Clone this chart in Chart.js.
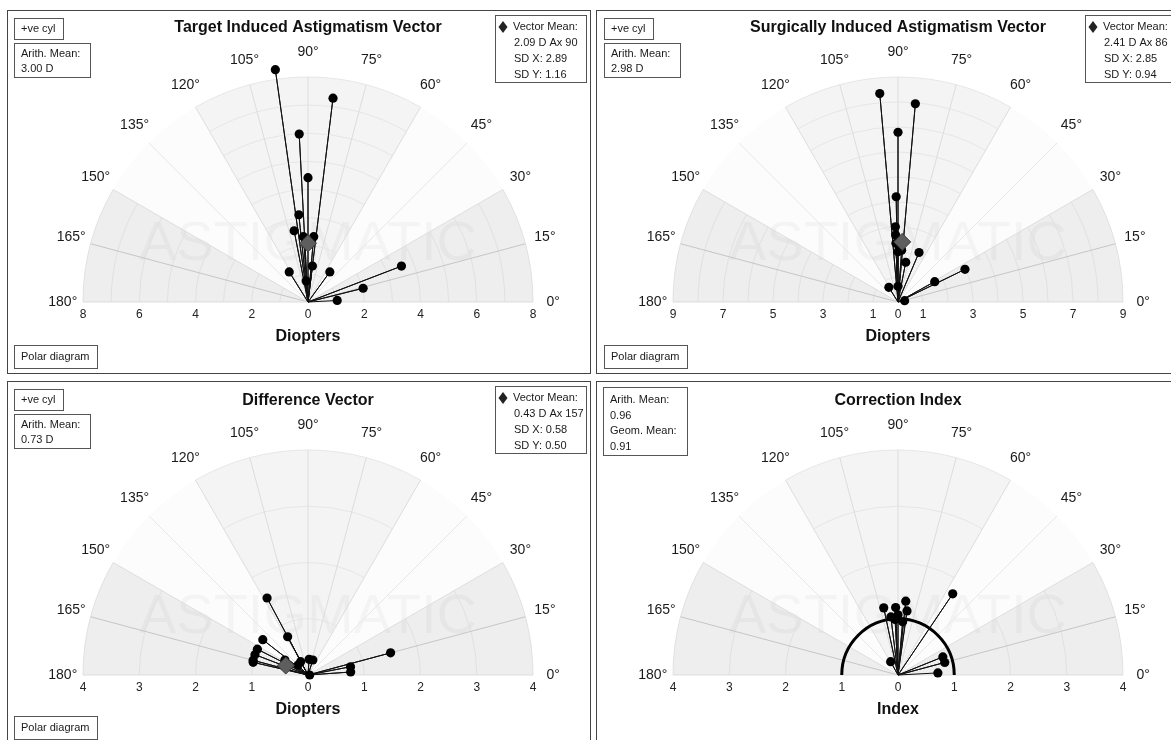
<!DOCTYPE html>
<html><head><meta charset="utf-8">
<script src="https://cdn.jsdelivr.net/npm/chart.js@4.4.0/dist/chart.umd.min.js"></script>
<style>
html,body{margin:0;padding:0;background:#fff;width:1171px;height:740px;overflow:hidden;position:relative;}
.frame{position:absolute;border:1px solid #444;box-sizing:border-box;}
canvas{position:absolute;}
</style></head><body>
<div class="frame" style="left:7px;top:10px;width:584px;height:364px"></div>
<div class="frame" style="left:596px;top:10px;width:600px;height:364px"></div>
<div class="frame" style="left:7px;top:381px;width:584px;height:400px"></div>
<div class="frame" style="left:596px;top:381px;width:600px;height:400px"></div>
<canvas id="c1" width="590" height="373" style="left:0;top:0"></canvas>
<canvas id="c2" width="590" height="373" style="left:590px;top:0"></canvas>
<canvas id="c3" width="590" height="373" style="left:0;top:373px"></canvas>
<canvas id="c4" width="590" height="373" style="left:590px;top:373px"></canvas>
<script>
// ---------- DATA ----------
const angleLabels = [0,15,30,45,60,75,90,105,120,135,150,165,180];

const tiaTitle = 'Target Induced Astigmatism Vector';
const tiaMag  = [8.34, 7.30, 5.98, 4.42, 3.12, 2.58, 2.33, 2.33, 1.29, 1.26, 1.32, 0.75, 3.56, 2.02, 1.04];
const tiaAxis = [98, 83, 93, 90, 96, 101, 85, 94, 83, 122, 54, 95, 21, 14, 3];
const tiaMean = [2.09, 90];
const tiaTicks = [-8,-6,-4,-2,0,2,4,6,8];
const tiaRange = 8;
const tiaArith = ['Arith. Mean:', '3.00 D'];
const tiaStats = ['Vector Mean:', '2.09 D Ax 90', 'SD X: 2.89', 'SD Y: 1.16'];

const siaTitle = 'Surgically Induced Astigmatism Vector';
const siaMag  = [8.37, 7.96, 6.79, 4.21, 3.01, 2.68, 2.35, 2.01, 2.08, 2.15, 1.62, 2.98, 1.68, 0.69, 0.63, 0.27];
const siaAxis = [95, 85, 90, 91, 92, 92, 92, 90, 86, 67, 79, 26, 29, 122, 90, 11];
const siaMean = [2.41, 86];
const siaTicks = [-9,-7,-5,-3,-1,0,1,3,5,7,9];
const siaRange = 9;
const siaArith = ['Arith. Mean:', '2.98 D'];
const siaStats = ['Vector Mean:', '2.41 D Ax 86', 'SD X: 2.85', 'SD Y: 0.94'];

const dvTitle = 'Difference Vector';
const dvMag  = [1.55, 0.77, 1.02, 1.01, 1.01, 1.01, 1.00, 0.49, 0.27, 0.28, 0.28, 0.03, 0.77, 0.76, 1.52, 0.25];
const dvAxis = [118, 118, 142, 153, 159, 165, 167, 147, 119, 86, 72, 0, 11, 4, 15, 135];
const dvMean = [0.43, 157];
const dvTicks = [-4,-3,-2,-1,0,1,2,3,4];
const dvRange = 4;
const dvArith = ['Arith. Mean:', '0.73 D'];
const dvStats = ['Vector Mean:', '0.43 D Ax 157', 'SD X: 0.58', 'SD Y: 0.50'];

const ciTitle = 'Correction Index';
const ciMag  = [1.74, 1.22, 1.20, 1.32, 1.15, 1.04, 0.99, 0.95, 1.07, 0.27, 0.86, 0.86, 0.71];
const ciAxis = [56, 102, 92, 84, 82, 97, 93, 85, 90, 119, 22, 15, 3];
const ciTicks = [-4,-3,-2,-1,0,1,2,3,4];
const ciRange = 4;
const ciStats = ['Arith. Mean:', '0.96', 'Geom. Mean:', '0.91'];

const watermark = 'ASTIGMATIC';
// ---------- END DATA ----------

const FONT = '"Liberation Sans", Arial, Helvetica, sans-serif';
Chart.defaults.font.family = FONT;
const HEADROOM = 1.1; // y axis extends 10% above the polar radius so outer points stay visible

function toXY(m, a){ const r = a*Math.PI/180; return {x: m*Math.cos(r), y: m*Math.sin(r)}; }

const polarPlugin = {
  id: 'polarGrid',
  beforeDatasetsDraw(chart, args, o) {
    const ctx = chart.ctx, xs = chart.scales.x, ys = chart.scales.y;
    const R = o.R;
    const cx = xs.getPixelForValue(0), cy = ys.getPixelForValue(0);
    const rp = xs.getPixelForValue(R) - cx;
    const unit = xs.getPixelForValue(1) - cx;
    const d2r = Math.PI/180;
    ctx.save();
    const sectors = [[0,30,'#eeeeee'],[30,60,'#fcfcfc'],[60,120,'#f4f4f4'],[120,150,'#fcfcfc'],[150,180,'#eeeeee']];
    for (const [a0,a1,c] of sectors) {
      ctx.beginPath(); ctx.moveTo(cx,cy);
      ctx.arc(cx,cy,rp,-a0*d2r,-a1*d2r,true);
      ctx.closePath(); ctx.fillStyle=c; ctx.fill();
    }
    // watermark
    ctx.font = '56px ' + FONT;
    ctx.fillStyle = 'rgba(0,0,0,0.03)';
    ctx.textAlign = 'center'; ctx.textBaseline = 'alphabetic';
    ctx.fillText(watermark, cx, cy - 42);
    // arcs in shaded sectors
    ctx.lineWidth = 1;
    for (let k = 1; k < R + 0.001; k++) {
      for (const [a0,a1,col] of [[0,30,'#e1e1e1'],[60,120,'#e6e6e6'],[150,180,'#e1e1e1']]) {
        ctx.strokeStyle = col;
        ctx.beginPath(); ctx.arc(cx,cy,k*unit,-a0*d2r,-a1*d2r,true); ctx.stroke();
      }
    }
    // radial lines
    for (const a of angleLabels) {
      let col = '#dddddd';
      if (a === 15 || a === 165) col = '#c6c6c6';
      if (a === 45 || a === 135) col = '#e8e8e8';
      ctx.strokeStyle = col;
      ctx.beginPath(); ctx.moveTo(cx,cy);
      ctx.lineTo(cx + rp*Math.cos(a*d2r), cy - rp*Math.sin(a*d2r)); ctx.stroke();
    }
    // angle labels
    ctx.font = '14px ' + FONT;
    ctx.fillStyle = '#1a1a1a';
    ctx.textAlign = 'center'; ctx.textBaseline = 'middle';
    for (const a of angleLabels) {
      const rr = rp*1.09;
      ctx.fillText(a + '\u00B0', cx + rr*Math.cos(a*d2r), cy - rr*Math.sin(a*d2r) - 5*Math.sin(a*d2r));
    }
    if (o.unitCircle) {
      ctx.strokeStyle = '#000'; ctx.lineWidth = 3;
      ctx.beginPath(); ctx.arc(cx,cy,unit,0,-Math.PI,true); ctx.stroke();
    }
    ctx.restore();
  },
  afterDraw(chart, args, o) {
    const ctx = chart.ctx;
    ctx.save();
    for (const b of o.boxes) {
      ctx.fillStyle = '#fff'; ctx.fillRect(b.x, b.y, b.w, b.h);
      ctx.strokeStyle = '#555'; ctx.lineWidth = 1;
      ctx.strokeRect(b.x + 0.5, b.y + 0.5, b.w, b.h);
      ctx.font = '11px ' + FONT; ctx.fillStyle = '#1a1a1a';
      ctx.textAlign = 'left'; ctx.textBaseline = 'middle';
      const ls = b.ls || 15.5, t0 = b.t0 || 10.5;
      if (b.diamond) {
        const dx = b.x + 8, dy = b.y + t0;
        ctx.beginPath(); ctx.moveTo(dx, dy - 6); ctx.lineTo(dx + 4.5, dy); ctx.lineTo(dx, dy + 6); ctx.lineTo(dx - 4.5, dy); ctx.closePath();
        ctx.fillStyle = '#222'; ctx.fill(); ctx.fillStyle = '#1a1a1a';
      }
      b.lines.forEach((ln, i) => {
        const x = b.diamond ? (i === 0 ? b.x + 18 : b.x + 19) : b.x + 7;
        ctx.fillText(ln, x, b.y + t0 + i*ls);
      });
    }
    ctx.restore();
  }
};

function makeChart(id, c) {
  const pts = c.mag.map((m,i) => toXY(m, c.axis[i]));
  const spokes = [];
  pts.forEach(p => { spokes.push({x:0, y:0}); spokes.push(p); });
  const datasets = [
    {data: spokes, showLine: true, borderColor: '#111', borderWidth: 1, pointRadius: 0, clip: false, order: 3},
    {data: pts, showLine: false, pointRadius: 4.6, pointHoverRadius: 4.6, pointBackgroundColor: '#000', pointBorderColor: '#000', pointBorderWidth: 0, clip: false, order: 2}
  ];
  if (c.mean) {
    datasets.push({data: [toXY(c.mean[0], c.mean[1])], showLine: false, pointStyle: 'rectRot', pointRadius: 8.5, pointBackgroundColor: '#5e5e5e', pointBorderColor: '#3a3a3a', pointBorderWidth: 1, clip: false, order: 1});
  }
  const dy = c.dyTop || 0;
  return new Chart(document.getElementById(id), {
    type: 'scatter',
    data: {datasets},
    plugins: [polarPlugin],
    options: {
      responsive: false, animation: false, devicePixelRatio: 1,
      layout: {padding: {left: 83, right: 57, top: 5 + dy, bottom: 21}},
      scales: {
        x: {
          type: 'linear', min: -c.R, max: c.R,
          afterBuildTicks: s => { s.ticks = c.ticks.map(v => ({value: v})); },
          afterFit: s => { s.height = 50; },
          ticks: {autoSkip: false, maxRotation: 0, padding: 5, font: {size: 12}, color: '#222', callback: v => Math.abs(v)},
          grid: {display: false, drawTicks: false},
          border: {display: false},
          title: {display: true, text: c.xTitle, font: {size: 16, weight: 'bold'}, color: '#111', padding: {top: 0, bottom: 6}}
        },
        y: {type: 'linear', display: false, min: 0, max: c.R * HEADROOM}
      },
      plugins: {
        legend: {display: false},
        tooltip: {enabled: false},
        title: {display: true, text: c.title, fullSize: false, font: {size: 16, weight: 'bold'}, color: '#111', padding: {top: 13.4 - dy, bottom: 16.9}},
        polarGrid: {R: c.R, unitCircle: !!c.unitCircle, boxes: c.boxes}
      }
    }
  });
}

function stdBoxes(arith, stats, dy) {
  return [
    {x: 14, y: 18 + dy, w: 49, h: 21, lines: ['+ve cyl']},
    {x: 14, y: 43 + dy, w: 76, h: 34, lines: arith, t0: 10.5, ls: 15.5},
    {x: 495, y: 15 + dy, w: 91, h: 67, lines: stats, diamond: true, t0: 12, ls: 16},
    {x: 14, y: 345 + dy, w: 83, h: 23, lines: ['Polar diagram'], t0: 11.5}
  ];
}

makeChart('c1', {title: tiaTitle, mag: tiaMag, axis: tiaAxis, mean: tiaMean, ticks: tiaTicks, R: tiaRange, xTitle: 'Diopters', boxes: stdBoxes(tiaArith, tiaStats, 0)});
makeChart('c2', {title: siaTitle, mag: siaMag, axis: siaAxis, mean: siaMean, ticks: siaTicks, R: siaRange, xTitle: 'Diopters', boxes: stdBoxes(siaArith, siaStats, 0)});
makeChart('c3', {title: dvTitle, mag: dvMag, axis: dvAxis, mean: dvMean, ticks: dvTicks, R: dvRange, xTitle: 'Diopters', boxes: stdBoxes(dvArith, dvStats, -2)});
makeChart('c4', {title: ciTitle, mag: ciMag, axis: ciAxis, ticks: ciTicks, R: ciRange, xTitle: 'Index', unitCircle: true,
  boxes: [{x: 13, y: 14, w: 84, h: 68, lines: ciStats, t0: 13, ls: 15.5}]});
</script>
</body></html>
